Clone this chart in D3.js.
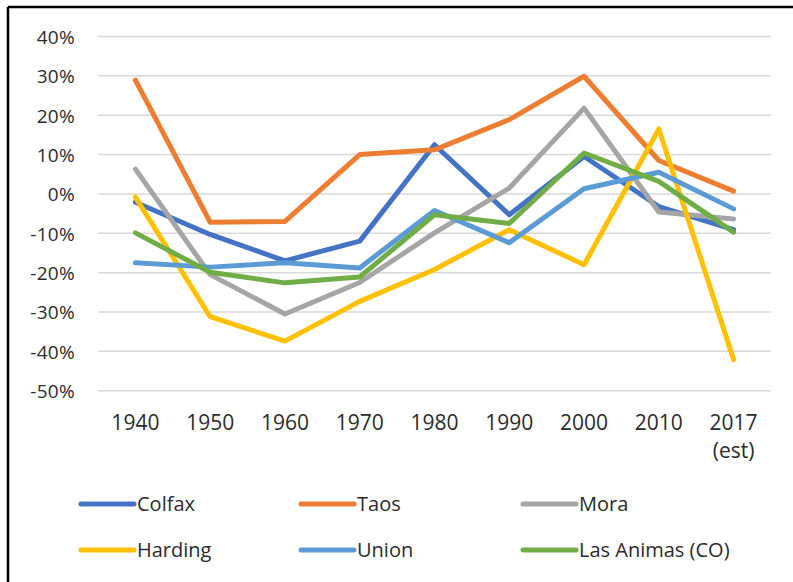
<!DOCTYPE html>
<html>
<head>
<meta charset="utf-8">
<script src="https://cdn.jsdelivr.net/npm/d3@7"></script>
<style>
  html, body { margin: 0; padding: 0; background: #fff; }
  svg { display: block; }
  text { font-family: "Open Sans", "Liberation Sans", sans-serif; fill: #2b2b2b; }
</style>
</head>
<body>
<svg id="chart" width="793" height="582"></svg>
<script>
// ---- data ----
const categories = ["1940", "1950", "1960", "1970", "1980", "1990", "2000", "2010", "2017 (est)"];
const yTicks = [0.4, 0.3, 0.2, 0.1, 0, -0.1, -0.2, -0.3, -0.4, -0.5];
const colfax    = [-0.021, -0.103, -0.170, -0.120, 0.125, -0.053, 0.095, -0.032, -0.091];
const taos      = [0.289, -0.072, -0.070, 0.100, 0.112, 0.189, 0.299, 0.085, 0.007];
const mora      = [0.063, -0.205, -0.305, -0.225, -0.099, 0.015, 0.218, -0.046, -0.064];
const harding   = [-0.008, -0.312, -0.374, -0.273, -0.192, -0.091, -0.180, 0.165, -0.421];
const union     = [-0.175, -0.186, -0.175, -0.188, -0.042, -0.124, 0.013, 0.055, -0.038];
const lasAnimas = [-0.099, -0.199, -0.226, -0.211, -0.053, -0.075, 0.104, 0.032, -0.097];
const seriesNames = ["Colfax", "Taos", "Mora", "Harding", "Union", "Las Animas (CO)"];
const seriesColors = ["#4472C4", "#ED7D31", "#A5A5A5", "#FFC000", "#5B9BD5", "#70AD47"];
const seriesValues = [colfax, taos, mora, harding, union, lasAnimas];

const svg = d3.select("#chart");
const textColor = "#2b2b2b";

// frame
svg.append("line").attr("x1", 8).attr("x2", 793).attr("y1", 7).attr("y2", 7)
  .attr("stroke", "#000").attr("stroke-width", 2.5);
svg.append("line").attr("x1", 8).attr("x2", 8).attr("y1", 7).attr("y2", 582)
  .attr("stroke", "#000").attr("stroke-width", 2.5);

const plotLeft = 98, plotRight = 771;
const x = d3.scaleBand().domain(categories).range([plotLeft, plotRight]);
const y = d3.scaleLinear().domain([-0.5, 0.4]).range([390.7, 36.5]);

// gridlines
svg.append("g").selectAll("line").data(yTicks).join("line")
  .attr("x1", plotLeft).attr("x2", plotRight)
  .attr("y1", d => y(d)).attr("y2", d => y(d))
  .attr("stroke", "#d9d9d9").attr("stroke-width", 1.5);

// y axis labels
const yAxis = d3.axisLeft(y).tickValues(yTicks).tickFormat(d3.format(".0%")).tickSize(0).tickPadding(0);
const yg = svg.append("g").attr("transform", "translate(75,0)").call(yAxis);
yg.select(".domain").remove();
yg.selectAll("text").attr("font-size", 19).attr("fill", textColor)
  .attr("font-family", "'Open Sans', sans-serif").attr("letter-spacing", 0.3)
  .attr("text-anchor", "end").attr("dy", "0.36em")
  .text(d => d3.format(".0%")(d).replace("−", "-"));

// x axis labels
const xAxis = d3.axisBottom(x).tickSize(0).tickPadding(0);
const xg = svg.append("g").attr("transform", "translate(0,0)").call(xAxis);
xg.select(".domain").remove();
xg.selectAll("text").remove();
xg.selectAll(".tick").each(function(d) {
  const parts = d.split(" ");
  const t = d3.select(this).append("text")
    .attr("font-size", 21).attr("fill", textColor)
    .attr("font-family", "'Open Sans', sans-serif")
    .attr("text-anchor", "middle");
  parts.forEach((p, i) => {
    t.append("tspan").attr("x", 0).attr("y", 430 + i * 28).text(p);
  });
});

// lines
const line = d3.line().x((d, i) => x(categories[i]) + x.bandwidth() / 2).y(d => y(d));
svg.append("g").selectAll("path").data(seriesValues).join("path")
  .attr("d", d => line(d))
  .attr("fill", "none")
  .attr("stroke", (d, i) => seriesColors[i])
  .attr("stroke-width", 5)
  .attr("stroke-linejoin", "round")
  .attr("stroke-linecap", "round");

// legend
const legCols = [79, 299, 521];
const legRows = [504, 550];
const leg = svg.append("g").selectAll("g").data(seriesNames).join("g")
  .attr("transform", (d, i) => `translate(${legCols[i % 3]},${legRows[Math.floor(i / 3)]})`);
leg.append("line").attr("x1", 2).attr("x2", 55).attr("y1", 0).attr("y2", 0)
  .attr("stroke", (d, i) => seriesColors[i]).attr("stroke-width", 5).attr("stroke-linecap", "round");
leg.append("text").attr("x", 58).attr("y", 7).attr("font-size", 20).attr("fill", textColor)
  .text(d => d);
</script>
</body>
</html>
